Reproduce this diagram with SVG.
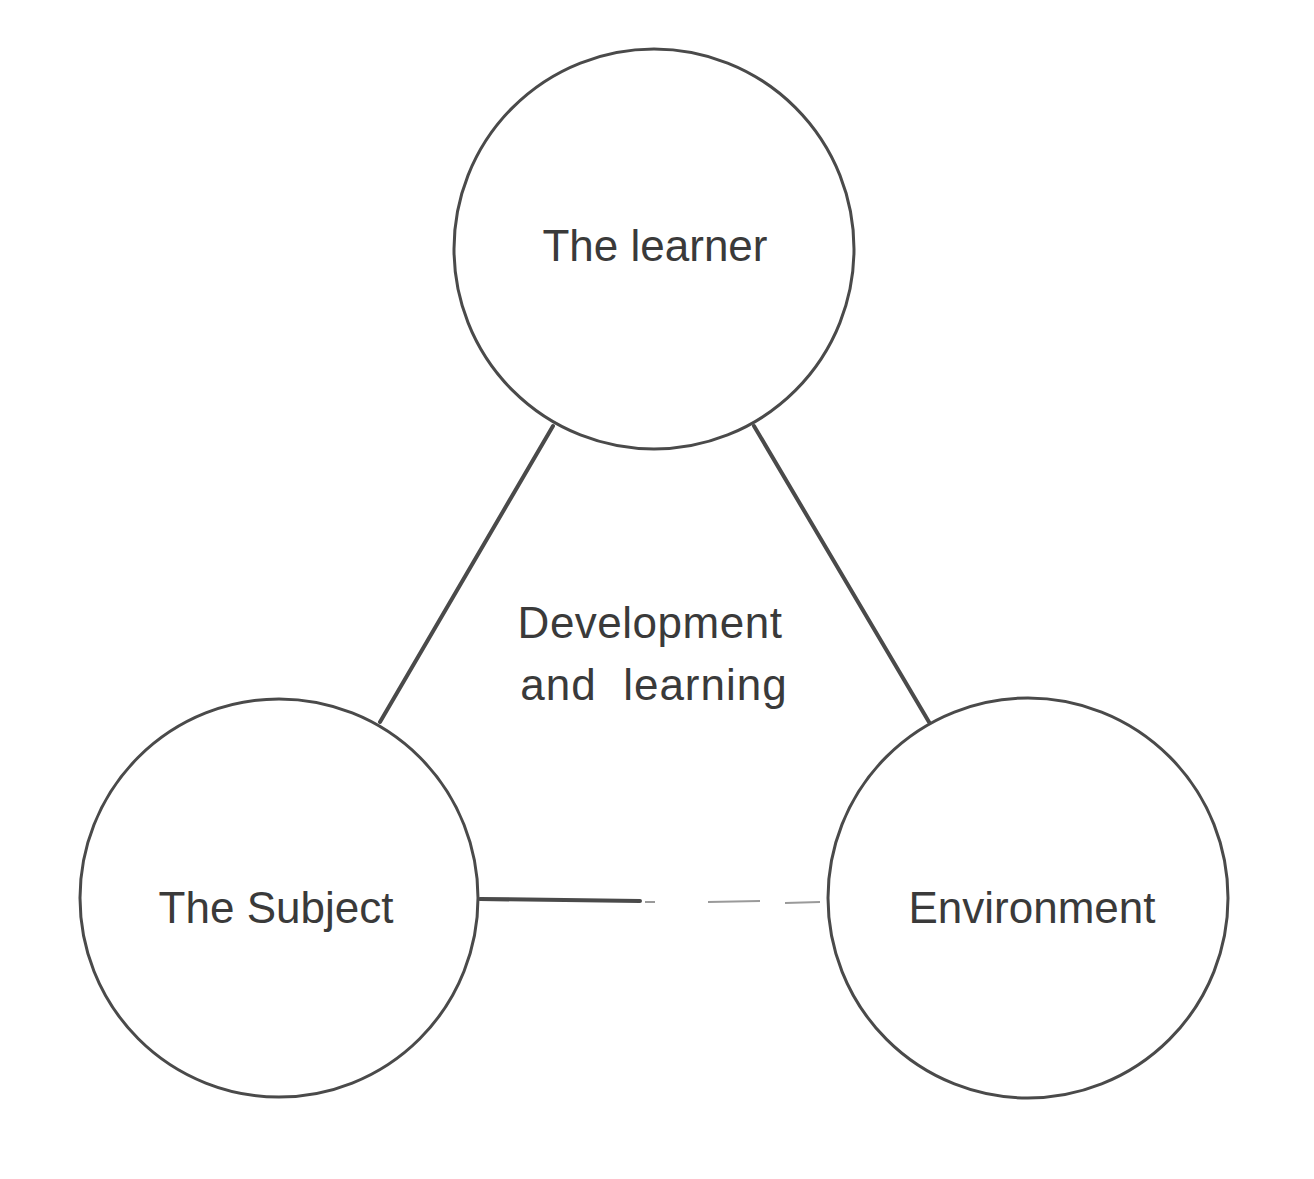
<svg xmlns="http://www.w3.org/2000/svg" width="1314" height="1179" viewBox="0 0 1314 1179">
<style>
.node{fill:none;stroke:#4a4a4a;stroke-width:3}
.lbl{font-family:"Liberation Sans","DejaVu Sans",sans-serif;font-size:44px;fill:#3a3a3a;text-anchor:middle}
.edge{stroke:#4a4a4a;stroke-width:4;stroke-linecap:round;fill:none}
.faint{stroke:#9a9a9a;stroke-width:2;fill:none}
</style>
<rect width="1314" height="1179" fill="#ffffff"/>
<g id="connectors">
<line class="edge" x1="553" y1="426" x2="380" y2="722"/>
<line class="edge" x1="754" y1="426" x2="929" y2="722"/>
<line class="edge" x1="480" y1="899" x2="640" y2="901"/>
<line class="faint" x1="645" y1="902" x2="655" y2="902"/>
<line class="faint" x1="708" y1="902" x2="760" y2="901"/>
<line class="faint" x1="785" y1="903" x2="820" y2="902"/>
</g>
<g id="learner">
<circle class="node" cx="654" cy="249" r="200"/>
<text class="lbl" x="655" y="261">The learner</text>
</g>
<g id="subject">
<circle class="node" cx="279" cy="898" r="199"/>
<text class="lbl" x="276" y="923">The Subject</text>
</g>
<g id="environment">
<circle class="node" cx="1028" cy="898" r="200"/>
<text class="lbl" x="1032" y="923">Environment</text>
</g>
<g id="center">
<text class="lbl" x="650" y="638" letter-spacing="0.5">Development</text>
<text class="lbl" x="654" y="700" letter-spacing="1" xml:space="preserve">and  learning</text>
</g>
</svg>
